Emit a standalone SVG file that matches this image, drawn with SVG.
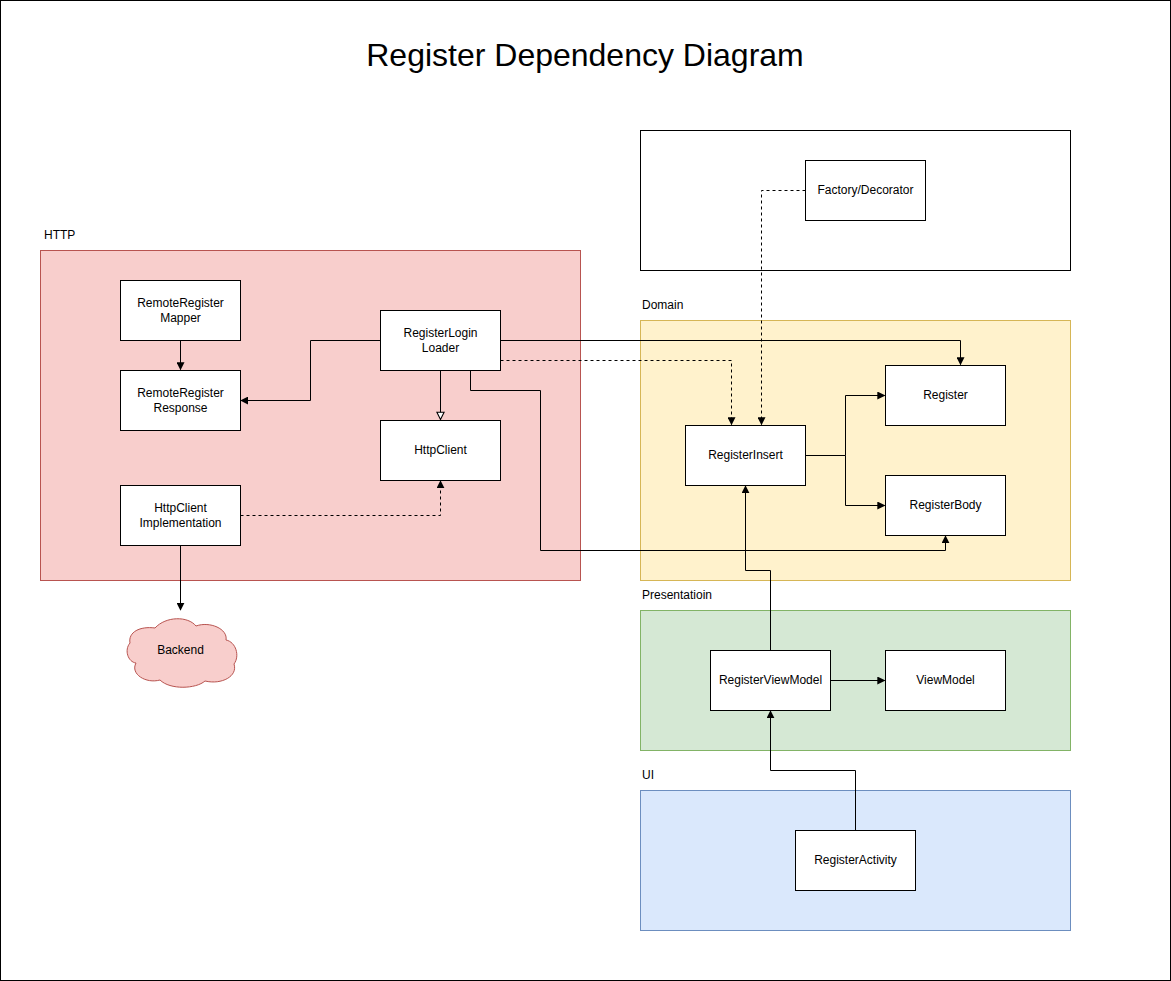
<svg xmlns="http://www.w3.org/2000/svg" width="1171" height="981" viewBox="0 0 1171 981">
<defs>
<marker id="arr" viewBox="0 0 10 10" refX="9" refY="5" markerWidth="8" markerHeight="8" markerUnits="userSpaceOnUse" orient="auto"><path d="M0,0 L10,5 L0,10 Z" fill="#000"/></marker>
<marker id="tri" viewBox="0 0 10 10" refX="9" refY="5" markerWidth="9" markerHeight="9" markerUnits="userSpaceOnUse" orient="auto"><path d="M1,1 L9,5 L1,9 Z" fill="#fff" stroke="#000" stroke-width="1.2"/></marker>
</defs>
<style>
text{font-family:"Liberation Sans",Arial,Helvetica,sans-serif;font-size:12px;fill:#000}
.t{text-anchor:middle}
.n{fill:#fff;stroke:#000;stroke-width:1}
.c{fill:none;stroke:#000;stroke-width:1}
.d{stroke-dasharray:3 3}
.e{marker-end:url(#arr)}
</style>
<rect x="0.5" y="0.5" width="1170" height="980" fill="#fff" stroke="#000"/>
<text x="585" y="66" class="t" style="font-size:32px">Register Dependency Diagram</text>

<g id="group-top"><rect x="640.5" y="130.5" width="430" height="140" fill="#fff" stroke="#000"/></g>
<g id="group-http"><rect x="40.5" y="250.5" width="540" height="330" fill="#f8cecc" stroke="#b85450"/><text x="44" y="239">HTTP</text></g>
<g id="group-domain"><rect x="640.5" y="320.5" width="430" height="260" fill="#fff2cc" stroke="#d6b656"/><text x="642" y="309">Domain</text></g>
<g id="group-presentation"><rect x="640.5" y="610.5" width="430" height="140" fill="#d5e8d4" stroke="#82b366"/><text x="642" y="599">Presentatioin</text></g>
<g id="group-ui"><rect x="640.5" y="790.5" width="430" height="140" fill="#dae8fc" stroke="#6c8ebf"/><text x="642" y="779">UI</text></g>

<g id="connectors">
<path class="c e" d="M180.5,340.5 V369.5"/>
<path class="c e" d="M380.5,340.5 H310.5 V400.5 H241"/>
<path class="c" d="M440.5,370.5 V419.5" marker-end="url(#tri)"/>
<path class="c e" d="M500.5,340.5 H960.5 V364.5"/>
<path class="c d e" d="M500.5,360.5 H731.5 V424.5"/>
<path class="c e" d="M470.5,370.5 V390.5 H540.5 V550.5 H945.5 V536"/>
<path class="c d e" d="M240.5,515.5 H440.5 V481"/>
<path class="c e" d="M180.5,545.5 V610"/>
<path class="c d e" d="M805.5,190.5 H761.5 V424.5"/>
<path class="c e" d="M805.5,455.5 H845.5 V395.5 H884.5"/>
<path class="c e" d="M845.5,455.5 V505.5 H884.5"/>
<path class="c e" d="M770.5,650.5 V570.5 H745.5 V486"/>
<path class="c e" d="M830.5,680.5 H884.5"/>
<path class="c e" d="M855.5,830.5 V770.5 H770.5 V711"/>
</g>

<g id="n-factory"><rect class="n" x="805.5" y="160.5" width="120" height="60"/><text x="865.5" y="194" class="t">Factory/Decorator</text></g>
<g id="n-mapper"><rect class="n" x="120.5" y="280.5" width="120" height="60"/><text x="180.5" y="307" class="t">RemoteRegister</text><text x="180.5" y="322" class="t">Mapper</text></g>
<g id="n-response"><rect class="n" x="120.5" y="370.5" width="120" height="60"/><text x="180.5" y="397" class="t">RemoteRegister</text><text x="180.5" y="412" class="t">Response</text></g>
<g id="n-loader"><rect class="n" x="380.5" y="310.5" width="120" height="60"/><text x="440.5" y="337" class="t">RegisterLogin</text><text x="440.5" y="352" class="t">Loader</text></g>
<g id="n-httpclient"><rect class="n" x="380.5" y="420.5" width="120" height="60"/><text x="440.5" y="454" class="t">HttpClient</text></g>
<g id="n-httpimpl"><rect class="n" x="120.5" y="485.5" width="120" height="60"/><text x="180.5" y="512" class="t">HttpClient</text><text x="180.5" y="527" class="t">Implementation</text></g>
<g id="n-backend"><path d="M155,628 C140,626 128,632 130,643 C124,650 128,662 136,663 C130,674 146,684 160,680 C170,690 196,689 205,681 C222,685 238,676 234,664 C240,656 236,642 226,640 C228,629 210,621 196,626 C188,616 166,616 155,628 Z" fill="#f8cecc" stroke="#b85450"/><text x="180.5" y="654" class="t">Backend</text></g>
<g id="n-insert"><rect class="n" x="685.5" y="425.5" width="120" height="60"/><text x="745.5" y="459" class="t">RegisterInsert</text></g>
<g id="n-register"><rect class="n" x="885.5" y="365.5" width="120" height="60"/><text x="945.5" y="399" class="t">Register</text></g>
<g id="n-body"><rect class="n" x="885.5" y="475.5" width="120" height="60"/><text x="945.5" y="509" class="t">RegisterBody</text></g>
<g id="n-rvm"><rect class="n" x="710.5" y="650.5" width="120" height="60"/><text x="770.5" y="684" class="t">RegisterViewModel</text></g>
<g id="n-vm"><rect class="n" x="885.5" y="650.5" width="120" height="60"/><text x="945.5" y="684" class="t">ViewModel</text></g>
<g id="n-activity"><rect class="n" x="795.5" y="830.5" width="120" height="60"/><text x="855.5" y="864" class="t">RegisterActivity</text></g>
</svg>
